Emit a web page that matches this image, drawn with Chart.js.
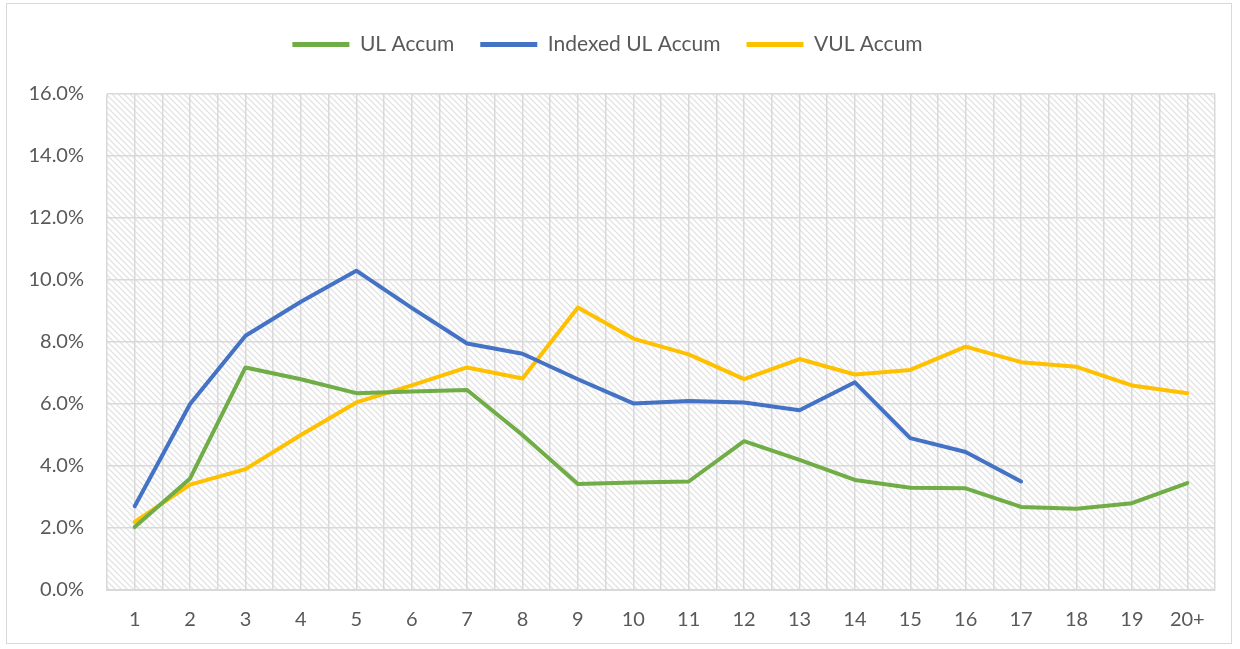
<!DOCTYPE html>
<html>
<head>
<meta charset="utf-8">
<script src="https://cdn.jsdelivr.net/npm/chart.js@4"></script>
<style>
  html, body { margin: 0; padding: 0; background: #fff; }
  #wrap { position: relative; width: 1240px; height: 649px; }
  #frame { position: absolute; left: 6px; top: 3px; width: 1226px; height: 641px; border: 1px solid #d9d9d9; box-sizing: border-box; pointer-events: none; }
</style>
</head>
<body>
<div id="wrap">
  <canvas id="lineChart" width="1240" height="649"></canvas>
  <div id="frame"></div>
</div>
<script>
// Policy years
const years = ['1', '2', '3', '4', '5', '6', '7', '8', '9', '10', '11', '12', '13', '14', '15', '16', '17', '18', '19', '20+'];

// Values in percent
const ulAccum = [2.03, 3.6, 7.18, 6.8, 6.35, 6.4, 6.45, 5.0, 3.42, 3.47, 3.5, 4.8, 4.2, 3.55, 3.3, 3.28, 2.68, 2.62, 2.8, 3.45];
const indexedUlAccum = [2.7, 6.0, 8.2, 9.3, 10.3, 9.1, 7.95, 7.62, 6.8, 6.02, 6.1, 6.05, 5.8, 6.7, 4.9, 4.45, 3.5, null, null, null];
const vulAccum = [2.2, 3.4, 3.9, 5.0, 6.05, 6.6, 7.18, 6.82, 9.11, 8.11, 7.6, 6.8, 7.45, 6.95, 7.1, 7.85, 7.35, 7.2, 6.6, 6.35];

const yTicks = [0, 2, 4, 6, 8, 10, 12, 14, 16];

const FONT = "Lato, 'Noto Sans', sans-serif";
const TEXT_COLOR = '#595959';
const GRID_COLOR = '#d9d9d9';

// diagonal hatch tile for the plot background
function makeHatch() {
    const tile = document.createElement('canvas');
    tile.width = 6;
    tile.height = 6;
    const c = tile.getContext('2d');
    c.strokeStyle = '#e3e3e3';
    c.lineWidth = 1.3;
    c.beginPath();
    c.moveTo(-1, -1); c.lineTo(7, 7);
    c.moveTo(5, -1); c.lineTo(7, 1);
    c.moveTo(-1, 5); c.lineTo(1, 7);
    c.stroke();
    return tile;
}

const hatchBackground = {
    id: 'hatchBackground',
    beforeInit(chart) {
        // leave more room under the legend, like the original
        const legend = chart.legend;
        if (legend) {
            const fit = legend.fit;
            legend.fit = function() {
                fit.call(this);
                this.height += 29;
            };
        }
    },
    beforeDraw(chart) {
        const { ctx, chartArea } = chart;
        ctx.save();
        ctx.fillStyle = ctx.createPattern(makeHatch(), 'repeat');
        ctx.fillRect(chartArea.left, chartArea.top, chartArea.right - chartArea.left, chartArea.bottom - chartArea.top);
        ctx.restore();
    }
};

function series(label, data, color) {
    return {
        label: label,
        data: data,
        borderColor: color,
        backgroundColor: color,
        borderWidth: 4,
        pointRadius: 0,
        tension: 0,
        borderJoinStyle: 'round',
        borderCapStyle: 'round',
        spanGaps: false
    };
}

const ctx = document.getElementById('lineChart').getContext('2d');

new Chart(ctx, {
    type: 'line',
    data: {
        labels: years,
        datasets: [
            series('UL Accum', ulAccum, '#70ad47'),
            series('Indexed UL Accum', indexedUlAccum, '#4472c4'),
            series('VUL Accum', vulAccum, '#ffc000')
        ]
    },
    options: {
        responsive: false,
        animation: false,
        devicePixelRatio: 1,
        layout: { padding: { left: 0, right: 25, top: 8, bottom: 14 } },
        plugins: {
            tooltip: { enabled: false },
            legend: {
                position: 'top',
                labels: {
                    font: { family: FONT, size: 21 },
                    color: TEXT_COLOR,
                    boxWidth: 57,
                    boxHeight: 5,
                    padding: 26,
                    generateLabels(chart) {
                        return chart.data.datasets.map((ds, i) => ({
                            text: ds.label,
                            fillStyle: ds.borderColor,
                            strokeStyle: ds.borderColor,
                            lineWidth: 0,
                            hidden: false,
                            datasetIndex: i,
                            fontColor: TEXT_COLOR
                        }));
                    }
                }
            }
        },
        scales: {
            x: {
                type: 'category',
                offset: true,
                grid: { color: GRID_COLOR, lineWidth: 1.5, offset: true, drawTicks: false },
                border: { color: GRID_COLOR, width: 2 },
                ticks: { font: { family: FONT, size: 20 }, color: TEXT_COLOR, padding: 18, maxRotation: 0, autoSkip: false },
                afterFit(scale) { scale.height = 45; }
            },
            x2: {
                type: 'category',
                position: 'bottom',
                offset: true,
                grid: { color: GRID_COLOR, lineWidth: 1.5, offset: false, drawTicks: false },
                border: { display: false },
                ticks: { display: false },
                afterFit(scale) { scale.height = 0; }
            },
            y: {
                min: 0,
                max: 16,
                afterBuildTicks(scale) { scale.ticks = yTicks.map(v => ({ value: v })); },
                grid: { color: GRID_COLOR, lineWidth: 1.5, drawTicks: false },
                border: { display: false },
                ticks: {
                    font: { family: FONT, size: 20 },
                    color: TEXT_COLOR,
                    padding: 23,
                    callback: v => v.toFixed(1) + '%'
                },
                afterFit(scale) { scale.width = 107; }
            }
        }
    },
    plugins: [hatchBackground]
});
</script>
</body>
</html>
